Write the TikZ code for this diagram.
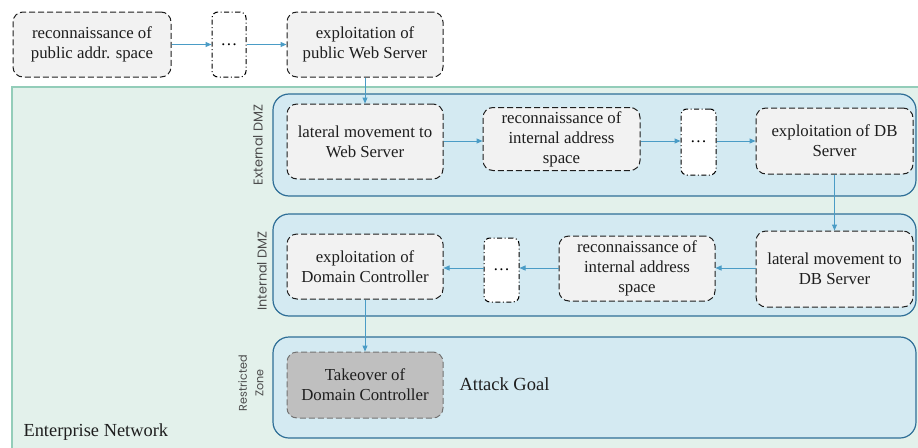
\documentclass[tikz,border=0pt]{standalone}
\usepackage{fontspec}
\setmainfont{Liberation Serif}
\newfontfamily\zonefont{Poppins}
\usetikzlibrary{arrows.meta}
\definecolor{entfill}{HTML}{E3F1EB}
\definecolor{entline}{HTML}{93CDB9}
\definecolor{zonefill}{HTML}{D4EAF2}
\definecolor{zoneline}{HTML}{2F6F97}
\definecolor{stepfill}{HTML}{F2F2F2}
\definecolor{flow}{HTML}{4A9CC6}
\definecolor{ink}{HTML}{1E1E1E}
\tikzset{
  stepbox/.style={draw=ink, fill=stepfill, dash pattern=on 6pt off 3pt, line width=1pt,
    rounded corners=10pt, align=center, font=\fontsize{16.8}{20}\selectfont, text=ink,
    inner sep=1pt, minimum width=156pt},
  gapbox/.style={draw=black, fill=white, dash pattern=on 5pt off 2.5pt on 1pt off 2.5pt,
    line width=1pt, rounded corners=6pt, minimum width=34pt, inner sep=1pt,
    font=\fontsize{16.8}{20}\selectfont},
  goalbox/.style={stepbox, fill=black!25, draw=black!55},
  zone/.style={draw=zoneline, fill=zonefill, line width=1.2pt, rounded corners=16pt},
  zonelabel/.style={rotate=90, font=\zonefont\fontsize{12.8}{14}\selectfont, text=ink!80, align=center},
  flowarrow/.style={draw=flow, line width=1pt, -{Triangle[length=6pt,width=5pt]}}
}
\begin{document}
\begin{tikzpicture}[x=1pt,y=-1pt]
\useasboundingbox (0,0) rectangle (918,447);
% enterprise network area
\fill[entfill] (12,87) rectangle (925,455);
\draw[entline, line width=1.2pt] (925,87) -- (12,87) -- (12,455);
\node[anchor=base west, font=\fontsize{18.4}{21}\selectfont, text=ink] (entlbl) at (20,436) {Enterprise Network};

% security zones
\draw[zone] (273,94) rectangle (916,196);
\draw[zone] (273,214) rectangle (916,316);
\draw[zone] (273,337) rectangle (916,438);
\node[zonelabel] (extlbl) at (258,145) {External DMZ};
\node[zonelabel] (intlbl) at (262,271) {Internal DMZ};
\node[zonelabel, font=\zonefont\fontsize{11.2}{16.5}\selectfont] (reslbl) at (251,383) {Restricted\\Zone};

% public steps
\node[stepbox, minimum width=158pt, minimum height=65pt] (pubrec) at (92,44.5) {reconnaissance of\\public addr. space};
\node[gapbox, minimum height=65pt] (pubgap) at (229,44.5) {\dots};
\node[stepbox, minimum height=65pt] (pubweb) at (365,44.5) {exploitation of\\public Web Server};

% external DMZ steps
\node[stepbox, minimum height=75pt] (latweb) at (365,141.5) {lateral movement to\\Web Server};
\node[stepbox, minimum width=157pt, minimum height=63pt] (extrec) at (561.5,139) {reconnaissance of\\internal address\\space};
\node[gapbox, minimum width=35pt, minimum height=66pt] (extgap) at (698.5,142) {\dots};
\node[stepbox, minimum width=157pt, minimum height=66pt] (dbexp) at (834.5,141) {exploitation of DB\\Server};

% internal DMZ steps
\node[stepbox, minimum width=157pt, minimum height=76pt] (latdb) at (834.5,269) {lateral movement to\\DB Server};
\node[stepbox, minimum height=65pt] (intrec) at (637,268.5) {reconnaissance of\\internal address\\space};
\node[gapbox, minimum width=35pt, minimum height=64pt] (intgap) at (501.5,270) {\dots};
\node[stepbox, minimum height=65pt] (dcexp) at (365,266.5) {exploitation of\\Domain Controller};

% restricted zone
\node[goalbox, minimum height=66pt] (dctake) at (365,385) {Takeover of\\Domain Controller};
\node[anchor=west, font=\fontsize{18.5}{21}\selectfont, text=ink] (goallbl) at (456,384) {Attack Goal};

% attack flow
\draw[flowarrow] (pubrec.east) -- (pubrec.east -| pubgap.west);
\draw[flowarrow] (pubgap.east) -- (pubgap.east -| pubweb.west);
\draw[flowarrow] (pubweb.south) -- (latweb.north);
\draw[flowarrow] (latweb.east |- 0,141) -- (extrec.west |- 0,141);
\draw[flowarrow] (extrec.east |- 0,141) -- (extgap.west |- 0,141);
\draw[flowarrow] (extgap.east |- 0,141) -- (dbexp.west |- 0,141);
\draw[flowarrow] (dbexp.south) -- (latdb.north);
\draw[flowarrow] (latdb.west |- 0,268) -- (intrec.east |- 0,268);
\draw[flowarrow] (intrec.west |- 0,268) -- (intgap.east |- 0,268);
\draw[flowarrow] (intgap.west |- 0,268) -- (dcexp.east |- 0,268);
\draw[flowarrow] (dcexp.south) -- (dctake.north);
\end{tikzpicture}
\end{document}
